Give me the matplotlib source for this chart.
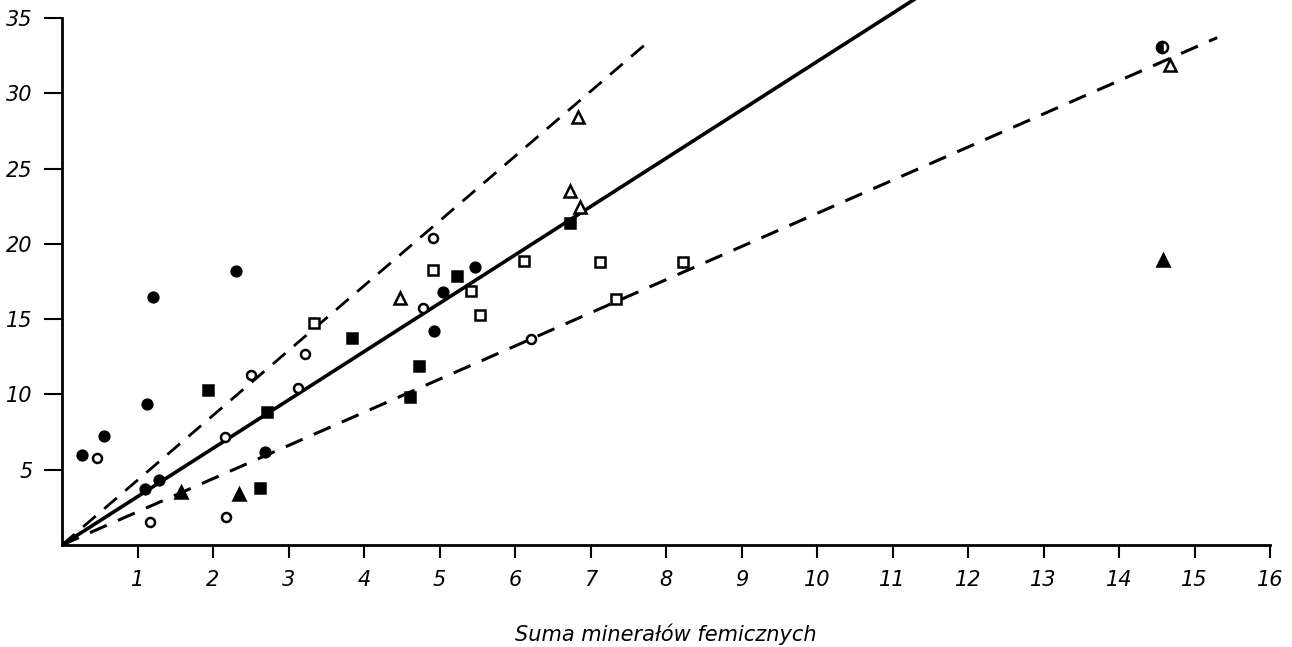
#!/usr/bin/env python3

import matplotlib.pyplot as plt
import numpy as np

# points, one group per symbol
filled_circle_x = [0.26, 0.56, 1.13, 1.21, 2.30, 1.10, 1.28, 5.05, 5.47, 4.93, 2.69]
filled_circle_y = [5.98, 7.24, 9.37, 16.48, 18.2, 3.72, 4.32, 16.8, 18.47, 14.2, 6.18]

open_circle_x = [0.46, 1.17, 2.17, 2.16, 2.50, 3.13, 3.22, 4.91, 4.78, 6.21]
open_circle_y = [5.78, 1.53, 1.86, 7.18, 11.3, 10.44, 12.69, 20.4, 15.75, 13.69]

filled_square_x = [1.93, 2.72, 2.62, 3.84, 4.73, 4.61, 5.23, 6.73]
filled_square_y = [10.3, 8.84, 3.79, 13.75, 11.9, 9.83, 17.87, 21.4]

open_square_x = [3.34, 4.91, 5.42, 5.54, 6.12, 7.13, 8.22, 7.34]
open_square_y = [14.75, 18.27, 16.88, 15.28, 18.87, 18.8, 18.8, 16.35]

filled_tri_x = [1.58, 2.34, 14.58]
filled_tri_y = [3.52, 3.39, 18.9]

open_tri_x = [4.48, 6.73, 6.86, 6.83, 14.68]
open_tri_y = [16.4, 23.5, 22.45, 28.4, 31.9]

odd_x = [14.57]
odd_y = [33.1]

# regression lines through the origin: (end x, end y)
solid_end = (11.4, 36.6)
steep_end = (7.76, 33.4)
shallow_end = (15.3, 33.7)

xticks = list(range(1, 17))
yticks = [5, 10, 15, 20, 25, 30, 35]

fig = plt.figure(figsize=(12.92, 6.47), dpi=100)
ax = fig.add_axes([0.048, 0.1577, 0.935, 0.8423])

ax.plot([0, solid_end[0]], [0, solid_end[1]], color="black", lw=2.6)
ax.plot([0, steep_end[0]], [0, steep_end[1]], color="black", lw=2.0,
        dashes=(6, 4))
ax.plot([0, shallow_end[0]], [0, shallow_end[1]], color="black", lw=2.2,
        dashes=(6, 4))

kw = dict(linestyle="none", color="black", mew=1.8)
ax.plot(filled_circle_x, filled_circle_y, marker="o", ms=7, **kw)
ax.plot(open_circle_x, open_circle_y, marker="o", ms=6.5, mfc="white", **kw)
ax.plot(filled_square_x, filled_square_y, marker="s", ms=7.5, **kw)
ax.plot(open_square_x, open_square_y, marker="s", ms=7.5, mfc="white", **kw)
ax.plot(filled_tri_x, filled_tri_y, marker="^", ms=9, **kw)
ax.plot(open_tri_x, open_tri_y, marker="^", ms=8.5, mfc="white", **kw)
ax.plot(odd_x, odd_y, marker="o", ms=8, fillstyle="left", mfc="black",
        mfcalt="white", **kw)

ax.set_xlim(0, 16)
ax.set_ylim(0, 36.2)
ax.spines["top"].set_visible(False)
ax.spines["right"].set_visible(False)
ax.spines["left"].set_bounds(0, 35)
ax.spines["left"].set_linewidth(2)
ax.spines["bottom"].set_linewidth(2)

ax.set_xticks(xticks)
ax.set_yticks(yticks)
ax.set_xticklabels([str(t) for t in xticks], fontsize=15, style="italic")
ax.set_yticklabels([str(t) for t in yticks], fontsize=15, style="italic")
ax.tick_params(axis="x", direction="out", length=9, width=1.5, pad=9)
ax.tick_params(axis="y", direction="out", length=13, width=1.5, pad=8)

ax.set_xlabel("Suma minerałów femicznych", fontsize=15, style="italic",
              labelpad=24)

fig.savefig("out.png", dpi=100)
